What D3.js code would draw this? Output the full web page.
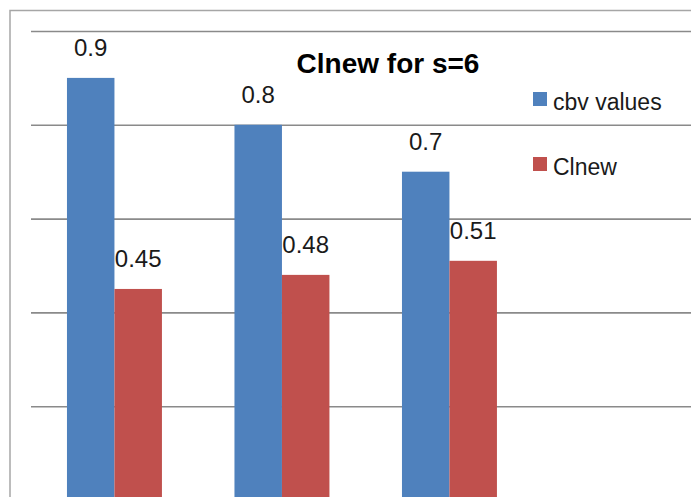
<!DOCTYPE html>
<html>
<head>
<meta charset="utf-8">
<script src="https://cdn.jsdelivr.net/npm/d3@7/dist/d3.min.js"></script>
<style>
  html, body { margin: 0; padding: 0; background: #fff; }
  svg { display: block; }
</style>
</head>
<body>
<svg id="chart" width="691" height="497"></svg>
<script>
// Grouped bar data: one group per s-value setting, two series per group
const groups = ["g1", "g2", "g3"];
const seriesNames = ["cbv values", "Clnew"];
const cbvValues = [0.9, 0.8, 0.7];
const clnewValues = [0.45, 0.48, 0.51];
const valueLabels = [["0.9", "0.45"], ["0.8", "0.48"], ["0.7", "0.51"]];
const gridTicks = [0.2, 0.4, 0.6, 0.8, 1.0];
const seriesColors = ["#4F81BD", "#C0504D"];

const svg = d3.select("#chart");
const W = 691, H = 497;
const font = "'Liberation Sans', Arial, sans-serif";

// Scales
const y = d3.scaleLinear().domain([0, 1]).range([500, 31]);
const x0 = d3.scaleBand().domain(groups).range([30.7, 533.2])
  .paddingInner(0.433).paddingOuter(0.2165);
const x1 = d3.scaleBand().domain(seriesNames).range([0, x0.bandwidth()]);
const color = d3.scaleOrdinal().domain(seriesNames).range(seriesColors);

// Outer chart frame (top and left edges visible)
svg.append("path")
  .attr("d", `M10,${H} L10,10.5 L${W},10.5`)
  .attr("fill", "none")
  .attr("stroke", "#a6a6a6")
  .attr("stroke-width", 1.5);

// Horizontal gridlines
const yAxis = d3.axisLeft(y).tickValues(gridTicks).tickSize(-(W - 31)).tickFormat("");
const ga = svg.append("g").attr("transform", "translate(31,0)").call(yAxis);
ga.select(".domain").remove();
ga.selectAll(".tick line").attr("stroke", "#8a8a8a").attr("stroke-width", 1.6);

// Bars
const rows = groups.map((g, i) => ({
  group: g,
  items: [
    { key: seriesNames[0], value: cbvValues[i], label: valueLabels[i][0] },
    { key: seriesNames[1], value: clnewValues[i], label: valueLabels[i][1] }
  ]
}));

const gg = svg.append("g").selectAll("g").data(rows).join("g")
  .attr("transform", d => `translate(${x0(d.group)},0)`);

gg.selectAll("rect").data(d => d.items).join("rect")
  .attr("x", d => x1(d.key))
  .attr("y", d => y(d.value))
  .attr("width", x1.bandwidth())
  .attr("height", d => y(0) - y(d.value))
  .attr("fill", d => color(d.key));

// Value labels above each bar
gg.selectAll("text").data(d => d.items).join("text")
  .attr("x", d => x1(d.key) + x1.bandwidth() / 2)
  .attr("y", d => y(d.value) - 22)
  .attr("text-anchor", "middle")
  .attr("font-family", font)
  .attr("font-size", 24)
  .attr("fill", "#1a1a1a")
  .text(d => d.label);

// Title
svg.append("text")
  .attr("x", 388)
  .attr("y", 73)
  .attr("text-anchor", "middle")
  .attr("font-family", font)
  .attr("font-weight", "bold")
  .attr("font-size", 28)
  .attr("fill", "#000")
  .text("Clnew for s=6");

// Legend
const legend = svg.append("g").selectAll("g").data(seriesNames).join("g")
  .attr("transform", (d, i) => `translate(533,${92 + i * 65})`);
legend.append("rect")
  .attr("width", 14).attr("height", 14)
  .attr("fill", d => color(d));
legend.append("text")
  .attr("x", 20)
  .attr("y", (d, i) => i === 0 ? 18 : 18)
  .attr("font-family", font)
  .attr("font-size", 23)
  .attr("fill", "#1a1a1a")
  .text(d => d);
</script>
</body>
</html>
